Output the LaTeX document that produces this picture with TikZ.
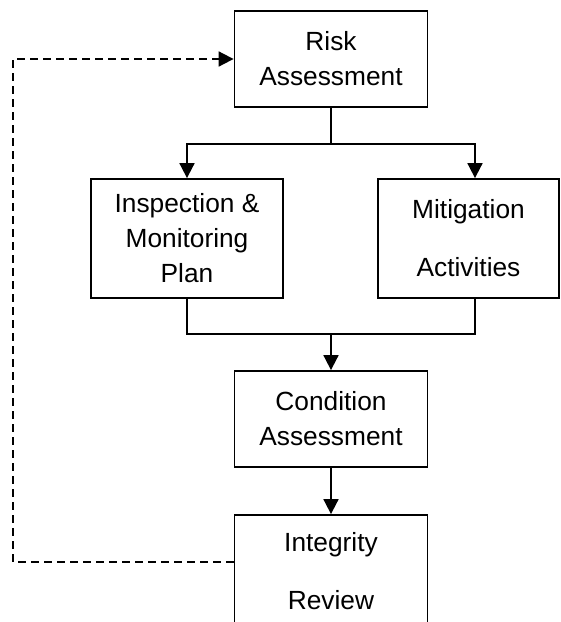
\documentclass[tikz,border=0pt]{standalone}
\usepackage{fontspec}
\setmainfont{Liberation Sans}
\usetikzlibrary{arrows.meta}
\begin{document}
\begin{tikzpicture}[x=1pt,y=-1pt,
  box/.style={draw=black,line width=1.8pt,fill=white,inner sep=0pt,align=center,
    font=\fontsize{26.3pt}{35pt}\selectfont},
  conn/.style={line width=1.8pt},
  arr/.style={conn,-{Triangle[length=15pt,width=15pt]}},
  fb/.style={line width=1.8pt,dash pattern=on 8pt off 5pt,-{Triangle[length=15pt,width=15pt]}}]
\useasboundingbox (0,0) rectangle (561,622);
\clip (0,0) rectangle (561,622);
\node[box,minimum width=193pt,minimum height=96pt] (ra) at (331,59) {Risk\\Assessment};
\node[box,minimum width=192pt,minimum height=119pt] (insp) at (187,238.5) {Inspection \&\\Monitoring\\Plan};
\node[box,minimum width=181pt,minimum height=119pt] (mit) at (468.5,238.5) {Mitigation\\[23pt]Activities};
\node[box,minimum width=193pt,minimum height=96pt] (ca) at (331,419) {Condition\\Assessment};
\node[box,minimum width=193pt,minimum height=113pt] (ir) at (331,571.5) {Integrity\\[23pt]Review};
% top split
\draw[conn] (ra.south) -- ++(0,36) coordinate (j1);
\draw[arr] (j1) -| (insp.north);
\draw[arr] (j1) -| ([xshift=6.5pt]mit.north);
% merge
\draw[conn] (insp.south) |- (331,334) coordinate (j2);
\draw[conn] (j2) -| ([xshift=6.5pt]mit.south);
\draw[arr] (j2) -- (ca.north);
\draw[arr] (ca.south) -- (ir.north);
% feedback
\coordinate (fbl) at (13,562);
\draw[fb] ([yshift=9.5pt]ir.west) -- (fbl) |- (ra.west);
\end{tikzpicture}
\end{document}
